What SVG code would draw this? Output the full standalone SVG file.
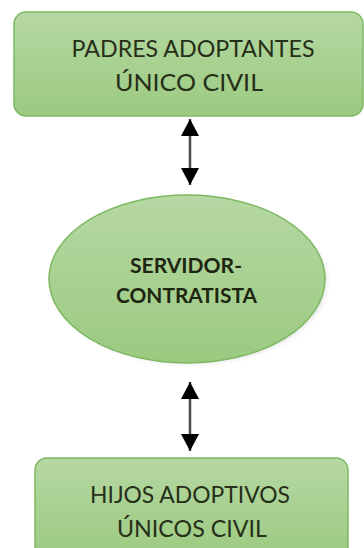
<svg xmlns="http://www.w3.org/2000/svg" width="364" height="548" viewBox="0 0 364 548">
  <defs>
    <linearGradient id="g" x1="0" y1="0" x2="0" y2="1">
      <stop offset="0" stop-color="#b6d8a3"/>
      <stop offset="1" stop-color="#9bca80"/>
    </linearGradient>
    <marker id="ah" viewBox="0 0 17 18" markerUnits="userSpaceOnUse" markerWidth="17" markerHeight="18" refX="17" refY="9" orient="auto-start-reverse">
      <path d="M0,0 L17,9 L0,18 z" fill="#000"/>
    </marker>
    <filter id="sh" x="-10%" y="-10%" width="130%" height="130%">
      <feGaussianBlur stdDeviation="2"/>
    </filter>
  </defs>
  <style>
    .box { fill: url(#g); stroke: #7db862; stroke-width: 1.5; }
    .t { font-family: Lato, "Open Sans", "Liberation Sans", sans-serif; font-size: 23px; fill: #262f18; text-anchor: middle; }
    .b { font-family: Lato, "Open Sans", "Liberation Sans", sans-serif; font-size: 21px; font-weight: bold; fill: #1e2612; text-anchor: middle; }
    .arr { stroke: #4a4a4a; stroke-width: 2.5; fill: none; marker-start: url(#ah); marker-end: url(#ah); }
  </style>
  <rect width="364" height="548" fill="#ffffff"/>
  <g id="connectors">
    <path class="arr" d="M190,119 L190,185"/>
    <path class="arr" d="M190,382 L190,451"/>
  </g>
  <g id="padres">
    <rect class="box" x="14" y="12" width="349" height="104" rx="12"/>
    <text class="t" x="193" y="57" textLength="243" lengthAdjust="spacingAndGlyphs">PADRES ADOPTANTES</text>
    <text class="t" x="189" y="91" textLength="148" lengthAdjust="spacingAndGlyphs">ÚNICO CIVIL</text>
  </g>
  <g id="servidor">
    <ellipse cx="190" cy="282" rx="137" ry="82" fill="#cfcfcf" opacity="0.5" filter="url(#sh)"/>
    <ellipse class="box" cx="187" cy="279" rx="138" ry="84"/>
    <text class="b" x="186" y="273" textLength="112" lengthAdjust="spacingAndGlyphs">SERVIDOR-</text>
    <text class="b" x="186.5" y="303" textLength="141" lengthAdjust="spacingAndGlyphs">CONTRATISTA</text>
  </g>
  <g id="hijos">
    <rect class="box" x="35" y="458" width="313" height="102" rx="12"/>
    <text class="t" x="190" y="503" textLength="200" lengthAdjust="spacingAndGlyphs">HIJOS ADOPTIVOS</text>
    <text class="t" x="192" y="537" textLength="150" lengthAdjust="spacingAndGlyphs">ÚNICOS CIVIL</text>
  </g>
</svg>
